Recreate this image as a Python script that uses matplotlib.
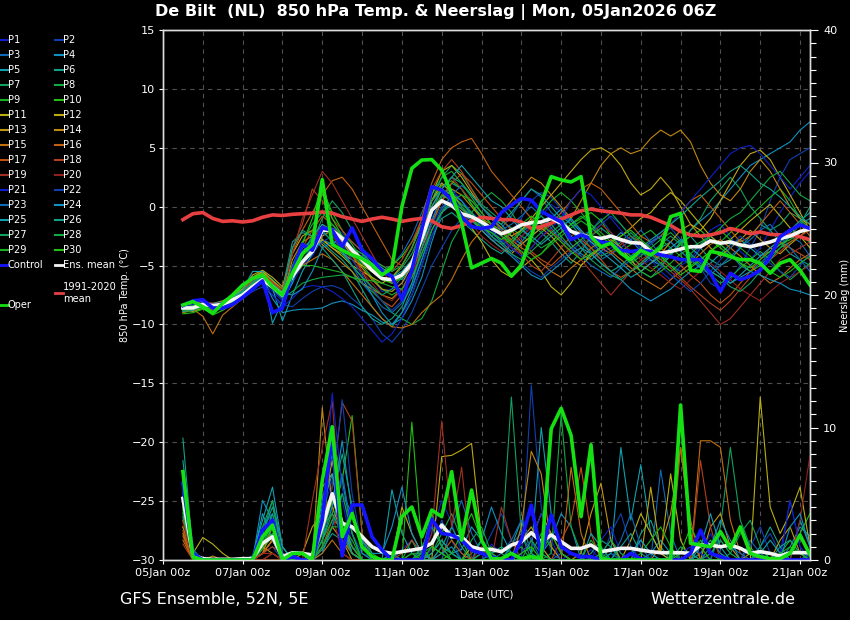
import numpy as np
import matplotlib
matplotlib.use("Agg")
import matplotlib.pyplot as plt
from matplotlib.lines import Line2D
from matplotlib.ticker import MultipleLocator

# GFS ensemble, run 05Jan2026 06Z, 6-hourly steps (+6h .. +384h)
lead_hours = np.arange(6, 385, 6)
run_hour = 6

date_labels = ["05Jan 00z", "07Jan 00z", "09Jan 00z", "11Jan 00z", "13Jan 00z",
               "15Jan 00z", "17Jan 00z", "19Jan 00z", "21Jan 00z"]

# 850 hPa temperature (deg C)
ens_mean_temp = [
    -8.6, -8.6, -8.3, -8.4, -8.3, -7.9, -7.5, -6.8, -6.2, -6.8, -7.5, -5.9, -4.7, -3.8, -2.0, -2.0,
    -2.7, -3.7, -4.5, -5.4, -6.1, -6.2, -5.8, -4.8, -2.7, -0.3, 0.5, 0.1, -0.6, -0.85, -1.3, -1.85,
    -2.3, -2.0, -1.55, -1.36, -1.3, -1.0, -1.4, -2.1, -2.4, -2.6, -2.7, -2.5, -2.8, -3.05, -3.1, -3.8,
    -3.95, -3.8, -3.6, -3.4, -3.4, -2.9, -3.1, -3.0, -3.25, -3.4, -3.2, -3.0, -2.7, -2.5, -2.1, -1.9]
control_temp = [
    -8.4, -8.0, -7.9, -8.6, -8.6, -8.3, -7.7, -7.0, -6.3, -9.0, -8.6, -5.5, -3.2, -3.7, -1.8, -2.0,
    -3.4, -1.8, -3.7, -4.4, -5.5, -5.9, -7.9, -5.4, -1.9, 1.7, 1.4, 0.6, -0.85, -1.7, -1.85, -1.7,
    -0.5, 0.15, 0.7, 0.55, -0.4, -0.85, -1.3, -2.8, -2.4, -2.7, -3.0, -3.1, -3.7, -3.8, -3.7, -3.8,
    -4.1, -4.25, -4.5, -4.5, -4.5, -5.65, -7.2, -5.65, -6.2, -5.9, -5.4, -4.25, -2.55, -2.0, -1.55, -1.85]
oper_temp = [
    -8.35, -8.06, -8.5, -9.05, -8.2, -7.5, -6.65, -6.1, -5.8, -6.8, -7.5, -5.65, -4.0, -3.2, 2.3, -3.2,
    -3.7, -4.1, -4.4, -4.95, -5.8, -5.2, 0.0, 3.26, 3.96, 4.0, 3.1, 1.1, -1.4, -5.2, -4.8, -4.4,
    -4.8, -5.9, -4.95, -2.55, 0.3, 2.55, 2.27, 2.1, 2.55, -2.55, -3.4, -3.1, -3.96, -4.5, -3.7, -4.1,
    -3.5, -0.85, -0.56, -5.4, -5.5, -3.8, -3.96, -4.25, -4.5, -4.5, -4.8, -5.65, -4.8, -4.5, -5.4, -6.65]
clim_temp = [
    -1.1, -0.6, -0.5, -1.0, -1.25, -1.2, -1.3, -1.2, -0.9, -0.7, -0.75, -0.65, -0.6, -0.55, -0.45, -0.55,
    -0.85, -1.05, -1.25, -1.05, -0.9, -1.05, -1.25, -1.1, -1.0, -1.2, -1.7, -1.85, -1.6, -1.2, -0.9, -1.0,
    -1.1, -1.1, -1.3, -1.85, -1.7, -1.4, -1.05, -0.7, -0.35, -0.2, -0.35, -0.45, -0.55, -0.7, -0.7, -0.9,
    -1.25, -1.6, -2.1, -2.4, -2.5, -2.4, -2.2, -1.85, -2.05, -2.3, -2.15, -2.35, -2.4, -2.4, -2.55, -2.8]

# perturbed members P1..P30
pert_temp = [
    [-8.8, -8.4, -8.0, -8.6, -8.5, -8.1, -7.6, -6.9, -6.4, -7.2, -8.0, -6.5, -5.0, -4.2, -2.5, -1.8,
     -2.2, -3.5, -5.0, -6.0, -7.2, -7.0, -6.5, -5.5, -3.0, -1.0, 0.8, 1.5, 0.5, -0.5, -1.2, -2.0,
     -2.8, -3.5, -2.6, -1.5, -0.8, 0.2, -0.5, -1.5, -2.0, -3.2, -4.0, -3.5, -2.8, -4.2, -5.0, -4.5,
     -5.5, -6.2, -5.0, -4.5, -3.2, -2.0, -1.5, -2.5, -3.8, -4.5, -3.5, -2.0, -0.5, 0.8, 2.0, 3.0],
    [-8.5, -8.7, -8.4, -8.6, -8.8, -8.3, -7.8, -7.2, -6.8, -7.5, -8.3, -8.5, -7.8, -7.2, -6.8, -6.7,
     -7.0, -7.8, -8.5, -9.5, -10.8, -11.5, -10.5, -9.0, -7.0, -5.0, -3.5, -2.0, -1.0, -0.5, -1.5, -2.8,
     -3.0, -2.2, -1.0, 0.5, 1.2, 0.8, -0.2, -1.5, -2.5, -2.0, -1.0, -2.2, -3.5, -4.8, -4.0, -3.2,
     -2.5, -1.8, -2.8, -4.0, -5.2, -6.5, -7.0, -6.2, -5.0, -3.5, -2.0, 0.5, 2.5, 4.0, 4.5, 5.0],
    [-8.6, -8.9, -8.5, -8.3, -8.2, -7.7, -7.2, -6.3, -5.9, -6.5, -7.2, -5.0, -3.8, -2.8, -1.5, -2.2,
     -3.0, -4.0, -4.2, -4.8, -5.5, -5.0, -4.0, -2.5, -0.5, 1.5, 2.0, 1.2, 0.5, -0.5, -1.8, -2.5,
     -1.8, -0.8, 0.5, 1.5, 0.8, -0.5, -1.2, -2.0, -3.0, -3.8, -4.5, -4.0, -3.5, -2.8, -2.0, -3.0,
     -4.2, -5.0, -5.5, -4.8, -3.5, -2.5, -3.2, -4.0, -5.0, -5.5, -4.8, -4.0, -3.2, -2.5, -3.0, -4.2],
    [-8.4, -8.6, -8.2, -8.5, -8.6, -8.2, -7.5, -6.5, -6.0, -7.8, -9.0, -8.8, -8.7, -8.7, -8.6, -8.2,
     -8.0, -8.3, -8.8, -9.2, -9.8, -10.0, -9.5, -8.0, -6.0, -3.0, -0.5, 1.0, 0.5, -0.8, -1.5, -2.2,
     -3.0, -3.8, -3.0, -2.0, -1.2, -0.8, -1.8, -3.2, -4.0, -4.5, -3.8, -3.0, -2.2, -2.8, -3.8, -4.5,
     -5.0, -4.2, -3.0, -2.0, -1.2, -0.5, 0.5, 1.5, 2.5, 3.5, 4.0, 4.5, 5.0, 5.5, 6.5, 7.2],
    [-8.7, -8.5, -8.6, -8.8, -8.4, -8.0, -7.2, -6.6, -5.8, -6.9, -9.7, -7.5, -5.5, -4.0, -2.8, -3.2,
     -2.5, -3.0, -3.8, -4.5, -5.2, -5.8, -6.2, -5.0, -3.5, -1.2, 0.8, 2.0, 1.5, 0.2, -0.8, -1.0,
     -1.5, -2.5, -3.2, -2.5, -1.8, -1.0, -0.2, -1.2, -2.2, -3.0, -3.5, -4.0, -4.8, -5.5, -5.0, -4.2,
     -3.5, -3.0, -3.8, -4.5, -5.2, -4.8, -4.0, -3.2, -2.8, -3.5, -4.2, -3.8, -3.0, -2.2, -1.5, -1.0],
    [-8.9, -8.7, -8.3, -8.2, -8.0, -7.5, -7.0, -6.0, -5.5, -6.2, -7.0, -3.0, -2.2, -2.5, -3.0, -3.8,
     -4.5, -5.5, -7.0, -8.5, -9.5, -10.2, -9.0, -7.5, -5.0, -2.5, -1.0, -0.5, -1.2, -2.0, -2.8, -3.5,
     -4.0, -3.2, -2.0, -1.5, -2.2, -3.0, -4.0, -4.8, -3.8, -2.5, -1.8, -2.5, -3.5, -4.5, -5.5, -6.0,
     -5.2, -4.0, -3.0, -2.5, -3.5, -4.5, -5.0, -4.5, -3.5, -2.5, -1.5, -2.0, -3.0, -4.0, -4.5, -5.0],
    [-8.5, -8.8, -8.7, -8.9, -8.6, -8.1, -7.4, -6.6, -6.0, -6.5, -7.3, -6.0, -4.0, -3.0, -1.0, 0.5,
     -0.5, -2.0, -3.5, -4.5, -5.5, -6.0, -5.2, -4.0, -2.0, 0.5, 2.5, 3.5, 2.8, 1.5, 0.2, -0.5,
     -1.2, -1.8, -2.5, -3.0, -2.2, -1.5, -0.8, -1.5, -2.5, -3.5, -4.2, -3.8, -3.0, -2.2, -3.0, -4.0,
     -4.5, -4.0, -3.2, -2.0, -1.0, 0.5, 1.5, 2.5, 1.5, 0.0, -1.0, -2.0, -1.5, -0.5, -1.0, -2.0],
    [-8.6, -8.5, -8.4, -8.7, -8.5, -8.0, -7.8, -6.9, -6.3, -7.0, -7.8, -7.2, -6.5, -6.2, -6.0, -5.9,
     -5.8, -6.0, -6.5, -7.2, -8.0, -9.0, -9.5, -10.0, -9.5, -8.0, -5.5, -3.0, -1.5, -0.5, 0.5, 1.2,
     0.5, -0.5, -1.8, -2.8, -3.5, -3.0, -2.2, -1.5, -0.8, -1.5, -2.5, -3.2, -4.0, -4.8, -4.2, -3.5,
     -2.8, -2.2, -3.0, -4.2, -5.0, -5.8, -6.5, -6.0, -5.2, -4.5, -3.8, -4.5, -5.5, -6.2, -5.5, -4.8],
    [-8.8, -8.6, -8.5, -8.4, -8.2, -7.8, -7.3, -6.5, -6.0, -6.6, -7.2, -5.5, -4.2, -3.2, -2.2, -1.5,
     -2.5, -4.0, -5.0, -6.0, -7.0, -7.5, -7.0, -5.5, -3.0, 0.0, 1.5, 1.0, 0.2, -0.5, -1.5, -2.5,
     -3.2, -2.8, -2.0, -1.2, -0.5, 0.5, 1.2, 0.5, -0.5, -1.5, -2.2, -3.0, -3.8, -3.2, -2.5, -2.0,
     -2.8, -3.5, -4.2, -5.0, -4.5, -3.8, -3.0, -2.2, -1.5, -0.8, 0.0, 0.8, 1.5, 0.5, -1.0, -2.0],
    [-9.0, -8.8, -8.6, -9.2, -8.8, -8.2, -7.6, -6.4, -6.0, -6.8, -7.5, -5.8, -4.5, -3.5, 1.5, -0.5,
     -2.0, -3.2, -4.5, -5.0, -5.5, -5.0, -4.2, -3.0, -1.5, 0.5, 1.8, 2.2, 1.5, 0.2, -1.0, -1.8,
     -2.5, -3.2, -3.8, -4.5, -4.0, -3.0, -2.2, -1.5, -1.0, -0.5, -1.2, -2.5, -3.5, -4.2, -5.0, -5.5,
     -4.8, -4.0, -3.2, -2.5, -2.0, -2.8, -3.5, -4.2, -4.8, -5.5, -5.0, -4.2, -3.5, -3.0, -2.5, -3.0],
    [-8.4, -8.3, -8.0, -8.3, -8.1, -7.6, -7.2, -6.0, -5.5, -6.3, -7.0, -5.2, -4.0, -3.5, -2.8, -3.5,
     -4.2, -5.0, -5.5, -6.0, -6.5, -6.0, -5.0, -3.5, -1.5, 0.5, 1.5, 0.5, -0.5, -1.8, -3.0, -4.5,
     -5.5, -6.0, -5.2, -4.5, -5.5, -6.8, -7.5, -6.5, -5.0, -4.0, -3.5, -3.0, -2.5, -1.8, -1.0, -0.5,
     0.5, 1.2, 0.5, -0.5, -1.5, -2.5, -3.2, -2.8, -2.0, -1.2, -0.5, 0.2, -0.8, -1.8, -2.5, -3.5],
    [-8.6, -8.4, -8.2, -8.5, -8.2, -7.7, -7.0, -5.8, -5.4, -6.0, -6.8, -4.0, -2.5, -2.0, -2.8, -3.5,
     -4.0, -4.5, -5.0, -5.5, -6.0, -6.5, -6.0, -4.5, -2.0, 1.0, 3.0, 3.5, 2.5, 1.2, 0.0, -1.0,
     -1.8, -2.5, -2.0, -1.0, 0.0, 1.0, 2.0, 3.0, 4.0, 4.8, 5.0, 4.5, 3.5, 2.0, 1.0, 1.5,
     2.5, 1.5, 0.0, -1.5, -2.0, -1.0, 0.5, 2.0, 3.5, 4.5, 4.8, 4.0, 2.5, 1.0, -0.5, -2.0],
    [-8.7, -8.9, -8.6, -8.4, -8.3, -7.9, -7.4, -6.2, -5.6, -6.5, -7.4, -6.0, -4.8, -3.6, -2.5, -2.0,
     -3.0, -4.2, -5.2, -6.2, -7.0, -7.2, -6.5, -5.0, -2.5, 0.5, 2.0, 1.2, 0.0, -1.0, -2.0, -2.8,
     -3.5, -4.0, -3.2, -2.5, -1.8, -2.5, -3.5, -4.5, -5.0, -4.2, -3.5, -2.8, -3.5, -4.5, -5.5, -4.8,
     -4.0, -3.0, -2.0, -1.5, -2.5, -3.5, -4.2, -3.5, -2.8, -2.0, -2.8, -3.5, -4.0, -3.2, -2.5, -1.8],
    [-8.5, -8.6, -8.4, -8.3, -8.0, -7.6, -7.0, -6.0, -5.8, -6.6, -7.6, -4.5, -3.0, -2.5, -3.2, -4.0,
     -4.8, -5.5, -6.5, -7.0, -7.5, -7.8, -7.0, -5.5, -3.5, -1.5, 0.5, 1.5, 1.0, 0.0, -1.0, -1.5,
     -0.5, 0.5, 1.5, 2.5, 2.0, 1.0, 0.0, -1.0, 0.5, 2.0, 3.5, 4.5, 5.0, 4.5, 4.8, 5.8,
     6.5, 6.0, 6.5, 5.5, 3.5, 2.0, 1.0, 0.5, 1.5, 3.0, 4.0, 3.0, 1.5, 0.0, -1.0, -1.5],
    [-9.0, -8.7, -9.3, -10.8, -9.2, -8.5, -7.8, -6.8, -6.0, -6.8, -7.5, -6.0, -5.0, -4.5, -4.0, -4.5,
     -5.5, -6.5, -7.5, -8.5, -9.5, -10.2, -10.3, -10.0, -9.0, -8.2, -7.5, -6.2, -4.5, -3.0, -2.0, -1.5,
     -2.0, -2.8, -3.5, -4.0, -4.8, -5.5, -6.0, -5.2, -4.5, -3.5, -3.0, -3.8, -4.5, -5.2, -6.0, -6.5,
     -7.0, -6.2, -5.5, -4.8, -4.0, -3.2, -2.8, -3.5, -4.2, -5.0, -5.8, -6.5, -6.0, -5.2, -4.5, -4.0],
    [-8.8, -8.6, -8.3, -8.6, -8.4, -7.9, -7.3, -6.4, -5.8, -6.4, -7.0, -4.0, -2.0, -0.5, 1.0, 2.2,
     2.5, 1.5, 0.0, -1.5, -3.0, -4.5, -5.0, -3.5, -1.0, 2.0, 4.0, 5.0, 5.5, 5.8, 4.5, 3.0,
     2.0, 1.0, 0.0, -1.0, -2.0, -1.5, -0.5, 0.5, 1.5, 2.0, 1.5, 0.5, -0.5, -1.5, -2.5, -3.0,
     -2.5, -1.5, -0.5, 0.5, 1.0, 0.0, -1.0, -2.0, -3.0, -2.5, -1.5, -0.5, 0.5, -0.5, -1.5, -2.5],
    [-8.6, -8.8, -8.5, -8.8, -8.6, -8.2, -7.6, -6.6, -5.9, -6.9, -7.7, -5.8, -3.5, -2.0, -0.8, -1.5,
     -2.5, -4.0, -5.5, -7.0, -8.0, -8.5, -7.5, -6.0, -4.0, -1.5, 0.5, 2.0, 2.8, 2.0, 1.0, 0.0,
     -1.0, -2.0, -3.0, -3.8, -4.5, -5.0, -4.2, -3.5, -2.8, -3.5, -4.5, -5.5, -6.0, -5.5, -4.8, -4.0,
     -3.5, -4.2, -5.0, -5.8, -6.5, -7.5, -8.2, -7.5, -6.5, -5.5, -4.5, -3.5, -3.0, -3.5, -4.0, -4.5],
    [-8.5, -8.4, -8.1, -8.2, -8.2, -7.8, -7.2, -6.1, -5.7, -6.4, -7.2, -3.5, -1.5, 1.5, 0.5, -1.0,
     -2.0, -3.0, -3.8, -4.5, -5.0, -5.5, -4.5, -3.0, -1.0, 1.5, 3.0, 4.0, 3.0, 1.5, 0.0, -1.0,
     -2.0, -3.0, -4.0, -5.0, -5.5, -4.5, -3.5, -2.5, -2.0, -2.8, -3.5, -4.0, -3.2, -2.5, -3.0, -3.8,
     -4.5, -5.2, -6.0, -6.8, -7.5, -8.2, -8.8, -8.0, -7.0, -6.0, -5.2, -4.5, -3.8, -3.0, -2.5, -2.0],
    [-8.7, -8.6, -8.4, -8.5, -8.3, -7.8, -7.3, -6.3, -5.9, -6.6, -7.4, -4.0, -1.0, 1.0, 3.0, 2.0,
     0.5, -1.0, -2.5, -4.0, -5.5, -6.5, -6.0, -4.5, -2.5, 0.0, 1.5, 2.5, 1.5, 0.5, -0.5, -1.5,
     -2.5, -3.5, -4.0, -3.5, -2.5, -2.0, -2.8, -3.5, -4.5, -5.5, -6.5, -7.5, -6.5, -5.5, -4.5, -4.0,
     -4.8, -5.5, -6.2, -7.0, -8.0, -9.0, -10.0, -9.5, -8.5, -7.5, -6.5, -5.5, -4.5, -4.0, -3.5, -3.0],
    [-8.6, -8.7, -8.5, -8.6, -8.4, -8.0, -7.5, -6.7, -6.1, -6.7, -7.4, -5.6, -4.0, -3.0, -1.5, -2.5,
     -3.5, -4.5, -5.5, -6.5, -7.5, -8.0, -7.0, -5.8, -3.5, -0.5, 1.0, 0.5, -0.5, -1.5, -2.5, -3.2,
     -3.8, -3.2, -2.5, -1.8, -1.2, -2.0, -3.0, -4.0, -3.5, -2.5, -1.5, -2.2, -3.0, -3.8, -4.5, -5.2,
     -5.8, -6.5, -7.0, -6.2, -5.5, -4.8, -5.5, -6.2, -7.0, -7.5, -8.0, -7.2, -6.5, -6.0, -5.5, -5.0],
    [-8.5, -8.3, -8.2, -8.5, -8.7, -8.2, -7.7, -6.9, -6.5, -7.5, -8.5, -7.8, -6.9, -6.7, -6.8, -7.2,
     -7.8, -8.5, -9.5, -10.5, -11.5, -10.8, -9.5, -7.5, -5.0, -2.5, -0.5, 0.5, 0.0, -0.8, -1.5, -2.2,
     -2.8, -3.5, -4.2, -3.5, -2.5, -1.8, -1.0, 0.5, 1.5, 1.0, 0.0, -1.0, -2.0, -3.0, -3.5, -3.0,
     -2.2, -1.5, -0.5, 0.5, 1.5, 2.5, 3.5, 4.5, 5.0, 5.2, 4.5, 3.5, 2.5, 1.5, 2.5, 3.5],
    [-8.4, -8.5, -8.1, -8.3, -8.1, -7.8, -7.3, -6.6, -6.1, -9.0, -8.8, -6.0, -4.5, -3.8, -3.0, -2.5,
     -3.2, -4.5, -5.8, -7.0, -8.0, -8.8, -8.0, -6.5, -4.0, -1.5, 0.0, 0.5, -0.2, -1.0, -1.8, -2.5,
     -3.2, -4.0, -4.8, -5.5, -6.0, -5.2, -4.5, -3.8, -3.0, -2.2, -1.5, -0.8, -1.5, -2.5, -3.5, -4.2,
     -5.0, -5.8, -6.5, -7.2, -6.5, -5.5, -4.5, -3.5, -2.5, -3.2, -4.0, -4.8, -5.5, -6.0, -5.0, -4.0],
    [-8.7, -8.4, -8.3, -8.6, -8.4, -8.0, -7.5, -6.8, -6.2, -7.0, -7.8, -6.2, -4.8, -3.2, -2.2, -2.8,
     -3.5, -5.0, -6.5, -7.5, -8.5, -9.0, -8.2, -6.8, -4.5, -2.0, -0.2, 1.0, 1.8, 1.0, 0.0, -1.0,
     -2.0, -1.5, -0.8, 0.0, -0.8, -1.8, -2.8, -3.5, -4.2, -5.0, -5.5, -6.0, -5.2, -4.5, -3.8, -3.0,
     -2.5, -3.0, -3.8, -4.5, -5.2, -5.8, -5.0, -4.2, -3.5, -2.8, -2.0, -1.5, -2.5, -3.5, -4.5, -5.5],
    [-8.8, -8.6, -8.4, -8.7, -8.5, -7.9, -7.4, -6.5, -6.0, -6.6, -7.3, -7.5, -7.0, -5.5, -3.5, -3.0,
     -3.8, -5.0, -6.0, -7.5, -9.0, -10.0, -9.0, -7.0, -4.5, -2.0, -0.5, 0.2, -0.5, -1.2, -2.0, -2.8,
     -3.5, -4.2, -5.0, -5.8, -6.2, -5.5, -4.8, -4.0, -3.5, -4.0, -4.8, -5.5, -6.2, -7.0, -7.5, -8.0,
     -7.5, -7.0, -6.2, -5.5, -5.0, -5.5, -6.0, -6.5, -6.0, -5.5, -5.8, -6.2, -6.5, -7.0, -7.2, -7.5],
    [-8.6, -8.7, -8.6, -8.4, -8.2, -7.7, -7.1, -5.5, -5.5, -9.9, -8.0, -6.5, -4.0, -2.5, -1.5, -2.0,
     -2.8, -3.5, -4.0, -4.8, -5.5, -6.0, -5.5, -4.5, -2.5, 0.0, 1.5, 2.5, 3.5, 2.5, 1.5, 0.5,
     0.0, -1.0, -2.0, -2.5, -3.2, -2.5, -1.8, -1.0, -2.0, -3.0, -3.8, -4.5, -5.2, -6.0, -5.5, -4.8,
     -4.2, -3.5, -2.8, -3.5, -4.2, -5.0, -5.8, -6.5, -5.8, -5.0, -4.2, -3.5, -2.8, -2.0, -1.2, -0.5],
    [-8.9, -8.8, -8.5, -8.6, -8.3, -7.8, -7.2, -6.4, -5.9, -6.6, -7.3, -3.5, -2.0, -2.5, -3.5, -4.5,
     -5.5, -7.0, -8.5, -9.5, -10.0, -9.5, -8.5, -6.5, -3.5, -0.5, 1.5, 2.5, 2.0, 1.0, 0.0, -0.8,
     -1.5, -0.5, 0.5, 1.5, 1.0, 0.0, -1.0, -2.0, -3.0, -4.0, -4.8, -5.5, -5.0, -4.2, -3.5, -2.8,
     -2.2, -1.5, -0.8, 0.0, 0.8, 1.5, 2.2, 3.0, 3.5, 2.8, 2.0, 1.5, 0.8, 0.0, -0.8, -1.5],
    [-8.7, -8.5, -8.4, -8.5, -8.4, -7.9, -7.4, -6.5, -6.0, -6.7, -7.5, -5.5, -3.5, -2.8, -2.0, -3.0,
     -4.0, -5.0, -6.0, -6.8, -7.5, -7.0, -6.0, -4.5, -2.0, 0.5, 1.5, 1.0, 0.0, -0.8, -1.5, -2.5,
     -3.2, -4.0, -4.5, -3.8, -3.0, -2.2, -1.5, -2.5, -3.5, -4.5, -5.2, -5.8, -6.2, -5.5, -4.8, -4.0,
     -3.2, -2.5, -3.2, -4.0, -4.8, -5.5, -6.0, -6.8, -7.2, -6.5, -5.5, -4.5, -3.5, -2.5, -1.5, 0.0],
    [-8.6, -8.4, -8.3, -8.7, -8.6, -8.0, -7.3, -6.7, -6.1, -6.8, -7.6, -5.0, -3.0, -1.5, -0.5, -1.5,
     -2.5, -3.5, -4.0, -4.5, -5.0, -5.5, -5.0, -3.5, -1.5, 1.0, 2.5, 3.0, 2.0, 0.8, -0.5, -1.5,
     -2.5, -3.0, -2.2, -1.5, -0.8, -1.5, -2.5, -3.5, -2.8, -2.0, -1.2, -0.5, -1.5, -2.5, -3.2, -4.0,
     -4.8, -5.5, -4.8, -4.0, -3.2, -2.5, -1.8, -1.0, -0.5, 0.5, 1.5, 2.5, 3.0, 2.0, 1.0, 0.5],
    [-8.8, -8.7, -8.6, -8.5, -8.4, -8.1, -7.5, -6.6, -6.2, -6.9, -7.6, -6.0, -5.0, -5.0, -5.2, -5.4,
     -5.6, -6.0, -6.2, -6.3, -6.5, -6.8, -7.0, -6.0, -4.0, -2.0, -0.5, 0.5, 1.0, 0.5, -0.5, -1.5,
     -2.2, -3.0, -3.8, -4.5, -4.0, -3.2, -2.5, -1.8, -1.2, -1.8, -2.5, -3.2, -4.0, -4.8, -5.5, -6.0,
     -5.5, -4.8, -4.0, -3.5, -3.0, -2.5, -2.0, -2.8, -3.5, -4.2, -5.0, -5.5, -6.0, -5.5, -4.8, -4.2],
    [-9.1, -9.0, -8.7, -8.9, -8.6, -8.2, -7.6, -6.8, -6.2, -6.9, -7.5, -5.2, -3.2, -1.0, 2.0, -1.0,
     -2.5, -3.8, -4.8, -5.5, -6.2, -6.5, -6.0, -4.8, -2.8, -0.5, 1.0, 0.5, -0.2, -1.0, -1.8, -2.2,
     -2.8, -2.2, -1.5, -0.8, -1.5, -2.2, -3.0, -3.8, -4.5, -4.0, -3.5, -3.0, -2.5, -2.0, -2.8, -3.5,
     -4.2, -5.0, -5.8, -5.2, -4.5, -3.8, -3.2, -4.0, -4.8, -5.2, -4.5, -3.8, -3.2, -2.8, -2.2, -1.8],
]

# 6-hourly precipitation (mm)
ens_mean_prec = [
    4.65, 0.38, 0.1, 0.05, 0.05, 0.05, 0.1, 0.1, 1.26, 1.76, 0.25, 0.55, 0.5, 0.38, 2.5, 5.0,
    2.77, 2.5, 1.76, 1.0, 0.63, 0.5, 0.63, 0.75, 0.88, 1.26, 2.64, 1.76, 1.76, 1.0, 0.8, 0.8,
    0.63, 1.13, 1.38, 2.06, 1.38, 1.89, 1.38, 0.88, 0.88, 1.13, 0.63, 0.75, 0.88, 0.88, 0.75, 0.63,
    0.55, 0.55, 0.55, 0.5, 1.13, 1.13, 1.0, 1.13, 0.88, 0.5, 0.63, 0.5, 0.3, 0.55, 0.55, 0.55]
control_prec = [
    5.8, 0.5, 0, 0, 0, 0, 0, 0, 2.26, 3.0, 0, 0.25, 0, 0, 3.0, 9.5,
    0.3, 4.15, 4.15, 1.76, 0.75, 0, 0, 0, 0, 3.1, 2.0, 1.9, 1.5, 0.75, 0.5, 0.25,
    0, 0, 1.5, 4.15, 0.4, 3.4, 1.0, 0.5, 0.25, 0.25, 0, 0, 0, 0.5, 0.1, 0,
    0, 0, 0, 0.5, 2.26, 0.5, 0.25, 0, 0, 0, 0, 0, 0, 0, 0, 0]
oper_prec = [
    6.67, 0.25, 0, 0, 0, 0, 0, 0, 1.76, 2.64, 0, 0.5, 0.5, 0, 6.0, 10.06,
    1.76, 3.5, 1.0, 0.25, 0, 0, 3.27, 4.0, 1.75, 3.77, 3.27, 6.67, 1.5, 5.28, 1.5, 0.1,
    0.1, 0.5, 0.1, 0.25, 0.1, 9.9, 11.45, 9.4, 3.27, 8.7, 0.1, 0, 0, 0, 0, 0,
    0, 0, 11.7, 1.26, 1.13, 1.0, 2.14, 0.88, 2.5, 0.5, 0.25, 0.1, 0.1, 0.5, 1.89, 0.38]

pert_prec = [
    [4.5, 0, 0, 0, 0, 0, 0, 0.2, 1.5, 2.5, 0, 0.5, 0, 0.3, 3.5, 6.0,
     4.5, 1.0, 0.5, 0, 0, 0, 0.8, 1.5, 0.5, 2.0, 4.5, 2.8, 0.5, 0, 0, 1.2,
     0.5, 0, 2.5, 3.5, 1.0, 0, 0, 0.5, 0, 0.8, 0, 0, 0, 0, 1.5, 0.5,
     0, 0, 0, 0, 0.5, 2.0, 0.5, 0, 0, 0, 0, 0, 0.5, 4.5, 1.0, 0],
    [5.0, 0.2, 0, 0, 0, 0, 0, 0, 0.5, 1.0, 0, 0, 0, 0, 2.5, 4.0,
     6.5, 2.0, 0.5, 0.2, 0, 0, 0, 0, 0, 0.8, 3.0, 1.5, 0, 0, 0.5, 2.0,
     3.5, 1.5, 0, 13.2, 4.0, 0.5, 0, 0, 0, 0, 0.5, 1.5, 0, 0, 0, 0,
     0, 0, 0, 0, 0, 0, 0, 0, 0, 0, 1.0, 2.0, 0.5, 0, 0, 0],
    [3.5, 0, 0, 0, 0, 0, 0, 0, 0.8, 2.0, 0.5, 0, 0, 0, 1.5, 5.0,
     3.0, 0.5, 0, 0, 0, 0.5, 0, 0, 0.8, 0, 0, 2.5, 4.5, 2.0, 0.5, 0,
     0, 1.2, 2.0, 0.5, 0, 0, 0.5, 0, 0, 0, 0, 0.5, 0, 0, 0, 0,
     6.8, 2.0, 0, 0, 0, 0, 0, 0, 0, 1.5, 0.5, 0, 0, 0, 0, 0],
    [5.5, 0.3, 0, 0, 0, 0, 0, 0, 2.0, 4.5, 1.0, 0, 0, 0, 0.5, 2.5,
     5.0, 3.5, 1.5, 0, 0, 0.5, 0, 0, 0, 0, 1.0, 0.5, 0, 0, 1.5, 4.0,
     2.0, 0.5, 0, 0, 0.5, 1.5, 3.5, 2.5, 0, 0, 0, 0, 0, 0, 0, 0.5,
     1.5, 0.5, 0, 0, 0, 0, 0, 0, 0, 0, 0, 0, 0, 1.0, 2.5, 1.8],
    [6.0, 0.5, 0, 0, 0, 0, 0, 0.3, 3.0, 5.5, 1.0, 0, 0, 0.5, 4.5, 8.0,
     2.5, 0.5, 0, 0, 0, 5.3, 2.0, 0.5, 0, 0.5, 1.5, 0.5, 0.8, 2.5, 1.5, 0,
     0, 0, 0, 0.5, 10.0, 3.5, 0.5, 0, 0, 0, 0, 0.5, 8.5, 3.0, 7.2, 2.0,
     0.5, 0, 0, 0, 0, 0, 0, 0, 0, 0, 0, 0, 0, 0, 3.0, 1.0],
    [9.2, 0.5, 0, 0, 0, 0, 0, 0, 1.5, 3.0, 0.5, 0, 0, 0, 0.8, 2.0,
     1.5, 0.5, 0, 0, 0, 0, 0, 0, 0.5, 0, 1.0, 2.5, 1.0, 0, 0, 0.5,
     0, 1.0, 3.0, 0.5, 0, 0, 0, 0, 0, 0.5, 1.5, 1.0, 0, 0, 2.0, 3.0,
     1.0, 0, 0, 0, 0.5, 1.5, 0.5, 0, 0, 0, 1.0, 2.5, 1.0, 0, 0, 0.5],
    [4.0, 0, 0, 0, 0, 0, 0, 0, 0.5, 1.5, 0, 0, 0, 0.5, 2.0, 5.0,
     2.5, 1.0, 0, 0, 0, 0, 0, 0.5, 0.5, 1.0, 0.5, 0, 0, 0.5, 1.5, 0.5,
     0.8, 12.3, 2.0, 0, 0, 0, 0, 0, 0, 0, 0, 0, 0, 0, 0, 0,
     0, 0, 1.0, 0.5, 0, 0, 2.5, 8.5, 3.0, 1.0, 0, 0, 0, 0, 0, 0],
    [5.2, 0.3, 0, 0, 0, 0, 0, 0, 1.0, 2.5, 0, 0, 0, 0, 1.0, 9.5,
     6.0, 2.0, 0, 0, 0, 0, 0, 1.5, 0, 0.5, 2.0, 3.5, 1.5, 0, 0, 0,
     0, 0.5, 1.0, 0, 0, 0.5, 11.0, 2.5, 0.5, 0, 0, 0, 0, 0, 0, 0,
     0, 0, 0, 0, 1.5, 0.5, 0, 0, 0, 0, 0, 0.5, 0, 0, 0, 0],
    [4.8, 0, 0, 0, 0, 0, 0, 0, 0.8, 1.8, 0, 0, 0, 0, 1.5, 3.5,
     2.0, 0.5, 0, 0, 0, 0, 0, 0, 0.5, 3.5, 1.0, 0.5, 0, 0, 0.5, 1.0,
     0.5, 0, 0, 0.5, 2.0, 1.0, 0, 0, 0, 1.5, 0.5, 0, 0, 0, 0, 0,
     0, 0, 0, 0, 0, 0, 0, 0, 0, 0, 0, 0, 0.5, 1.5, 0.5, 0],
    [3.8, 0, 0, 0, 0, 0, 0, 0, 1.2, 2.8, 0.5, 0, 0, 0, 2.5, 3.5,
     6.0, 10.9, 2.0, 0.5, 0, 0, 0, 10.4, 1.0, 0, 0, 0.5, 2.0, 3.5, 1.5, 0,
     0, 0, 0, 0, 0.5, 0, 0, 0, 0, 0, 0, 0, 0, 0, 0, 0,
     0, 0, 0, 0, 0, 0, 0, 0, 0, 0, 0, 0, 0, 0.5, 2.0, 3.5],
    [2.5, 0.5, 1.7, 1.2, 0.5, 0, 0, 0, 0.5, 1.5, 0, 0, 0, 0, 5.5, 6.5,
     2.0, 0.5, 0, 0, 0, 0, 0, 0, 0, 0, 0, 0, 0, 1.0, 0.5, 0.5,
     0, 0, 0.5, 1.5, 3.5, 2.0, 0.5, 0, 0, 0, 0, 0, 0, 1.5, 3.5, 2.0,
     0.5, 6.5, 1.5, 0, 0, 0, 0, 0, 0, 0, 12.3, 4.0, 2.0, 3.5, 5.5, 1.0],
    [3.0, 0, 0, 0, 0, 0, 0, 0, 0.5, 1.5, 0, 0, 0.5, 2.5, 3.5, 7.5,
     3.0, 1.0, 0, 0, 0, 0, 4.0, 2.0, 0.5, 0, 7.8, 7.9, 8.3, 8.8, 1.5, 0,
     0, 0, 0, 0, 0, 0, 0, 0, 0, 0, 0, 0, 0, 0, 0, 5.5,
     0.5, 0, 0, 0, 0, 0, 0, 0, 0, 0, 0, 0, 0, 0, 0, 0],
    [2.0, 0, 0, 0, 0, 0, 0, 0, 1.0, 0.5, 0, 0, 0, 0, 1.0, 2.5,
     1.5, 0, 0, 0, 0, 0, 0, 0, 0, 0, 0, 0, 0, 0, 0, 0,
     0, 0, 1.5, 2.5, 1.0, 0, 0, 0, 0.5, 3.5, 5.8, 1.5, 0, 0, 0, 0,
     0, 0, 0, 0, 0, 2.5, 3.5, 1.0, 0, 0.5, 0, 0, 1.5, 2.5, 0.5, 0],
    [2.5, 0, 0, 0.3, 0, 0, 0, 0, 0.5, 2.5, 0.5, 0, 0, 0, 11.5, 4.0,
     2.0, 0.5, 0, 0, 0, 0, 0, 0, 0, 0, 0, 0, 0, 0, 0, 0,
     0, 0, 2.5, 8.2, 6.5, 1.0, 0, 0, 0, 0, 0, 0, 0, 0, 0, 0,
     1.0, 3.5, 8.5, 2.0, 0, 0, 0, 0, 0, 0, 0, 0, 0, 0, 0, 0],
    [1.5, 0, 0, 0, 0, 0, 0, 0, 0, 0.5, 0, 0, 0, 0, 0.5, 1.5,
     0.5, 0, 0, 0, 0, 0, 0, 0, 0, 0, 0, 0, 0, 0, 0, 0,
     0, 0, 0, 0, 0, 0, 0, 7.0, 2.0, 0, 0, 0, 0, 0, 0, 0,
     0, 0, 0, 0, 9.0, 9.0, 8.5, 3.0, 0.5, 0, 0, 0, 0, 0, 0, 0],
    [1.8, 0, 0, 0, 0, 0, 0, 0, 0.5, 1.5, 0, 0, 0, 0, 3.5, 5.0,
     1.5, 0.5, 0, 0, 0, 0, 0, 0, 0, 0, 0.5, 1.5, 0.5, 0, 0, 0,
     0, 0, 0, 0, 0, 0, 0, 0, 0, 0, 0, 0, 0, 0, 0, 0,
     0, 0, 8.5, 3.0, 0, 0, 0, 0, 0, 0, 0, 0, 0, 0, 0, 0],
    [2.2, 0, 0, 0, 0, 0, 0, 0, 0, 0, 0, 0, 0, 0, 1.0, 3.0,
     2.5, 1.0, 0, 0, 0, 0, 0, 0, 0, 0, 0, 0, 0, 0, 0, 0,
     0, 0, 0, 0, 0, 0, 1.5, 3.0, 7.0, 2.0, 0, 0, 0, 0, 0, 0,
     0, 0, 0, 0, 0, 0, 0, 0, 0, 0, 0, 0, 0, 0, 0, 0],
    [1.2, 0, 0, 0, 0, 0, 0, 0, 0.5, 1.0, 0.5, 0, 0, 0, 2.0, 5.5,
     11.9, 10.5, 2.0, 0, 0, 0, 0.5, 1.5, 0.5, 0, 0, 0, 0, 0, 0, 0,
     0, 0, 0, 0, 0, 0, 0, 0, 0, 0, 0, 0, 0, 0, 0, 0,
     0, 0, 0, 0, 7.5, 2.5, 0, 0, 0, 0, 0, 0, 0, 0, 0, 0],
    [3.2, 0, 0, 0, 0, 0, 0, 0, 0.5, 0.5, 0, 0, 0, 4.5, 8.5, 12.0,
     2.0, 0.5, 0, 0, 0, 0, 0, 0, 0, 2.0, 10.5, 2.5, 7.0, 0, 1.0, 0,
     4.0, 1.5, 0, 0, 0, 0, 0, 0, 0, 0, 0, 0, 0, 0, 0, 0,
     0, 0, 0, 0, 0, 0, 0, 0, 0, 0, 0, 0, 0, 0, 0, 0],
    [2.8, 0, 0, 0, 0, 0, 0, 0, 0, 0.5, 0, 0, 0, 0, 2.5, 3.5,
     0.5, 0, 0, 0, 0, 0, 0, 0, 0, 0, 0, 0, 0, 0, 0, 0,
     0, 0, 0, 0, 0, 0, 0, 0, 0, 0, 0, 0, 0, 0, 0, 0,
     0, 0, 0, 0, 0, 0, 0, 0, 0, 0, 0, 0, 0, 0, 3.0, 7.9],
    [5.0, 0.3, 0, 0, 0, 0, 0, 0, 1.5, 3.5, 0.5, 0, 0, 0, 3.0, 12.6,
     5.5, 1.0, 0, 0, 0, 0, 0, 0, 0, 0, 0, 0, 0, 0, 0, 0,
     0, 0, 0.5, 1.5, 3.5, 1.5, 0, 0, 0, 0, 1.5, 2.5, 0.5, 0, 0, 0,
     0, 0, 0.5, 1.0, 0.5, 0, 0, 0, 0, 0, 0, 0, 0, 4.5, 1.0, 0],
    [4.2, 0, 0, 0, 0, 0, 0, 0, 1.0, 2.5, 0, 0, 0, 0, 2.0, 5.5,
     12.1, 5.0, 1.0, 0, 0, 0, 0, 0, 0, 0, 0, 0, 0, 0, 0, 0,
     0, 0, 0, 0, 0, 0, 0, 0, 0, 0, 0, 2.0, 3.5, 1.0, 0, 0,
     0, 0, 0, 0, 0, 0.5, 1.5, 0.5, 0, 1.0, 2.5, 0.5, 0, 0, 0, 0],
    [5.8, 0.5, 0, 0, 0, 0, 0, 0, 2.5, 3.5, 0.5, 0, 0, 0, 1.0, 2.5,
     6.5, 2.0, 0, 0, 0, 0, 0, 0, 0, 0, 0, 0, 0, 0, 0, 0,
     0.5, 1.5, 3.0, 1.5, 0, 0, 0, 0, 0, 0, 0, 0, 1.5, 3.5, 1.0, 0,
     0, 0, 0, 0, 0, 0, 2.0, 1.0, 0.5, 0, 0, 0, 0, 0, 0, 0.5],
    [6.5, 0.5, 0, 0, 0, 0, 0, 0, 4.5, 3.0, 0.5, 0, 0, 0, 1.5, 4.0,
     9.0, 3.5, 1.5, 0.5, 0.5, 2.5, 5.5, 2.0, 0.5, 0, 0.5, 1.0, 0, 0, 0, 0,
     0, 0, 0, 0, 0, 0, 0, 0, 0, 0, 0, 0, 0, 0, 0, 0,
     0, 0, 0, 0, 0, 1.0, 3.0, 1.5, 0, 0, 0, 0, 0, 2.5, 3.5, 1.0],
    [3.3, 0.3, 0, 0, 0, 0, 0, 0, 3.5, 1.5, 0, 0, 0, 0, 4.0, 6.5,
     3.0, 0.5, 0, 0, 0, 0, 0, 0, 0, 0, 0, 0, 0, 0, 0, 0,
     0, 0, 0, 0, 0, 0, 0, 0, 0, 2.0, 1.0, 0, 0, 0.5, 1.5, 0.5,
     0, 0, 0, 0, 1.0, 3.5, 1.0, 0, 0, 0, 0.5, 1.5, 0.5, 0, 0, 0],
    [7.5, 0.8, 0, 0, 0, 0, 0, 0, 2.0, 4.0, 1.0, 0, 0, 0, 2.5, 4.5,
     8.0, 4.0, 0.5, 0, 0, 0, 0, 0, 0, 0.5, 1.5, 0.5, 0, 0, 0.5, 0.5,
     1.0, 0.5, 0, 0, 0, 0, 0, 0, 0, 0, 0, 0, 1.0, 2.0, 0.5, 0,
     0, 0, 0, 0.5, 0, 0, 0, 0, 0, 0, 0, 0, 1.0, 1.5, 0.5, 0],
    [4.4, 0, 0, 0, 0, 0, 0, 0, 1.5, 3.5, 0, 0, 0, 0, 2.5, 3.5,
     2.0, 0.5, 0, 0, 0, 0, 0, 0, 1.0, 2.5, 1.0, 0, 0, 0, 0, 0,
     0, 0, 0, 1.5, 0.5, 0, 0, 0, 0, 0, 0, 1.0, 0, 0, 0, 0,
     0, 0, 0, 0, 0, 0, 0, 0.5, 2.0, 3.0, 1.0, 0, 0, 0, 0, 0],
    [5.5, 0.3, 0, 0, 0, 0, 0, 0, 2.5, 4.5, 0, 0, 0, 0, 1.5, 3.0,
     5.0, 2.0, 0, 0, 0, 0, 0, 0, 0.5, 3.5, 1.0, 0, 0, 1.5, 2.5, 0.5,
     0, 0, 0, 0, 0, 0, 0, 0, 0, 0, 0.5, 1.5, 0.5, 0, 0, 0,
     0, 0, 0, 0, 0, 0.5, 1.5, 0.5, 0, 0, 0, 0, 0, 0, 0, 0],
    [3.6, 0, 0, 0, 0, 0, 0, 0, 1.0, 2.0, 0, 0, 0, 0, 1.0, 2.5,
     2.5, 1.5, 0, 0, 0, 0, 0, 0.5, 0, 0, 0, 0, 0, 0, 0, 0,
     0, 0, 0, 0, 0.5, 2.0, 0.5, 0, 0, 0, 0, 0, 0, 0, 0.5, 1.5,
     2.5, 1.0, 0, 0, 0, 0, 0, 0, 0, 0, 0, 0, 0.5, 1.0, 0.5, 0],
    [4.0, 0, 0, 0, 0, 0, 0, 0, 1.0, 2.5, 0, 0, 0, 0, 2.0, 4.5,
     3.0, 1.0, 0, 0, 0, 0, 0, 0, 0, 1.0, 0.5, 0, 0, 0, 0, 0,
     0, 0, 0.5, 1.0, 0, 0, 0, 0, 0, 0, 0, 0, 0, 0, 0, 0,
     0, 0, 0.5, 2.5, 1.0, 0, 0, 0, 0, 0, 0, 0, 0, 0, 0, 0],
]

# member colours: P1..P20, repeated for P21..P30
base_colors = ["#1020c8", "#1040b0", "#1068b8", "#1090c0", "#10a0b0",
               "#10a088", "#10a060", "#10a840", "#18b020", "#20c010",
               "#b8b010", "#c0a810", "#c09810", "#c08810", "#c07010",
               "#c06010", "#c05010", "#b04020", "#a03020", "#902020"]
member_colors = base_colors + base_colors[:10]

fg = "white"
clim_color = "#e84040"
control_color = "#1414ff"
oper_color = "#14e014"
mean_color = "#f4f4f4"

x = (run_hour + lead_hours) / 24.0  # days since 05Jan 00z

fig = plt.figure(figsize=(8.5, 6.2), dpi=100, facecolor="black")
ax = fig.add_axes([163 / 850, 60 / 620, 647 / 850, 530 / 620], facecolor="black")
ax2 = ax.twinx()

for i in range(30):
    ax.plot(x, pert_temp[i], color=member_colors[i], lw=0.8)
    ax2.plot(x, pert_prec[i], color=member_colors[i], lw=0.8)

ax.plot(x, clim_temp, color=clim_color, lw=2.6)
ax.plot(x, ens_mean_temp, color=mean_color, lw=2.6)
ax.plot(x, control_temp, color=control_color, lw=2.6)
ax.plot(x, oper_temp, color=oper_color, lw=2.6)

ax2.plot(x, ens_mean_prec, color=mean_color, lw=2.6)
ax2.plot(x, control_prec, color=control_color, lw=2.6)
ax2.plot(x, oper_prec, color=oper_color, lw=2.6)

ax.set_xlim(0, 16.25)
ax.set_ylim(-30, 15)
ax2.set_ylim(0, 40)

ax.set_xticks(np.arange(0, 17, 2))
ax.set_xticklabels(date_labels)
ax.xaxis.set_minor_locator(MultipleLocator(1))
ax.yaxis.set_major_locator(MultipleLocator(5))
ax2.yaxis.set_major_locator(MultipleLocator(10))
ax2.yaxis.set_minor_locator(MultipleLocator(1))

ax.grid(True, which="both", axis="x", color="#505050", lw=0.8, ls=(0, (4, 4)))
ax.grid(True, which="major", axis="y", color="#505050", lw=0.8, ls=(0, (4, 4)))
ax.set_axisbelow(True)

for a in (ax, ax2):
    for sp in a.spines.values():
        sp.set_color("#dddddd")
        sp.set_linewidth(1.0)
ax.tick_params(axis="both", which="both", colors=fg, labelsize=8.1, length=3, width=0.8, pad=2.5)
ax.tick_params(axis="x", which="minor", length=0)
ax.tick_params(axis="x", pad=3)
ax2.tick_params(axis="y", which="both", colors=fg, labelsize=8.1, width=0.8)
ax2.tick_params(axis="y", which="major", length=6)
ax2.tick_params(axis="y", which="minor", length=4)

ax.set_ylabel("850 hPa Temp. (°C)", color=fg, fontsize=7.0)
ax.yaxis.set_label_coords(-0.051, 0.5)
ax2.set_ylabel("Neerslag (mm)", color=fg, fontsize=7.0)
ax2.yaxis.set_label_coords(1.046, 0.5)
ax.set_xlabel("Date (UTC)", color=fg, fontsize=7.0)
ax.xaxis.set_label_coords(0.5, -0.055)

fig.text(436 / 850, 1 - 12 / 620,
         "De Bilt  (NL)  850 hPa Temp. & Neerslag | Mon, 05Jan2026 06Z",
         color=fg, fontsize=11.5, fontweight="bold", ha="center", va="center")
fig.text(120 / 850, 1 - 599 / 620, "GFS Ensemble, 52N, 5E",
         color=fg, fontsize=11.5, ha="left", va="center")
fig.text(795 / 850, 1 - 599 / 620, "Wetterzentrale.de",
         color=fg, fontsize=11.5, ha="right", va="center")

# legend, drawn in pixel positions of the figure
def legend_entry(px, py, label, color, lw=1.5):
    fig.add_artist(Line2D([px / 850, (px + 8) / 850], [1 - py / 620, 1 - py / 620],
                          color=color, lw=lw))
    fig.text((px + 8) / 850, 1 - py / 620, label, color=fg, fontsize=7.1,
             ha="left", va="center")

for i in range(30):
    col = i % 2
    row = i // 2
    legend_entry(0 if col == 0 else 55, 40 + 15 * row, "P%d" % (i + 1), member_colors[i])
legend_entry(0, 265, "Control", control_color, 2)
legend_entry(55, 265, "Ens. mean", mean_color, 2)
legend_entry(55, 293, "1991-2020\nmean", clim_color, 2)
legend_entry(0, 305, "Oper", oper_color, 2)

fig.savefig("out.png", dpi=100, facecolor="black")
